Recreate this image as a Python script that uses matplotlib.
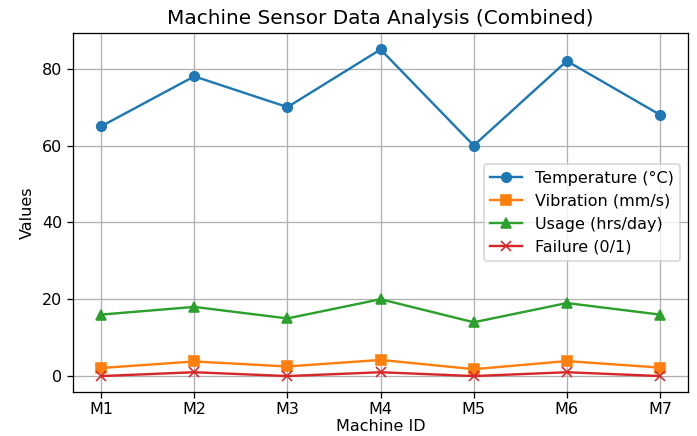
import matplotlib
matplotlib.use("Agg")
from matplotlib import pyplot as plt

# machine data
machines = ['M1', 'M2', 'M3', 'M4', 'M5', 'M6', 'M7']
temperature = [65, 78, 70, 85, 60, 82, 68]
vibration = [2.1, 3.8, 2.5, 4.2, 1.8, 3.9, 2.2]
usage = [16, 18, 15, 20, 14, 19, 16]
failure = [0, 1, 0, 1, 0, 1, 0]

# smaller figure at higher dpi -> bigger text, same pixel size
fig, ax = plt.subplots(figsize=(6.061, 3.7914), dpi=115)

ax.plot(machines, temperature, marker='o', label='Temperature (°C)')
ax.plot(machines, vibration, marker='s', label='Vibration (mm/s)')
ax.plot(machines, usage, marker='^', label='Usage (hrs/day)')
ax.plot(machines, failure, marker='x', label='Failure (0/1)')

ax.set_title('Machine Sensor Data Analysis (Combined)', fontsize=12.5)
ax.set_xlabel('Machine ID', labelpad=1)
ax.set_ylabel('Values')
ax.tick_params(axis='x', pad=2.5)
ax.legend(loc='center right', bbox_to_anchor=(1.0, 0.5))
ax.grid(True)

fig.subplots_adjust(left=0.105, right=0.987, top=0.924, bottom=0.1)
fig.savefig('out.png')
